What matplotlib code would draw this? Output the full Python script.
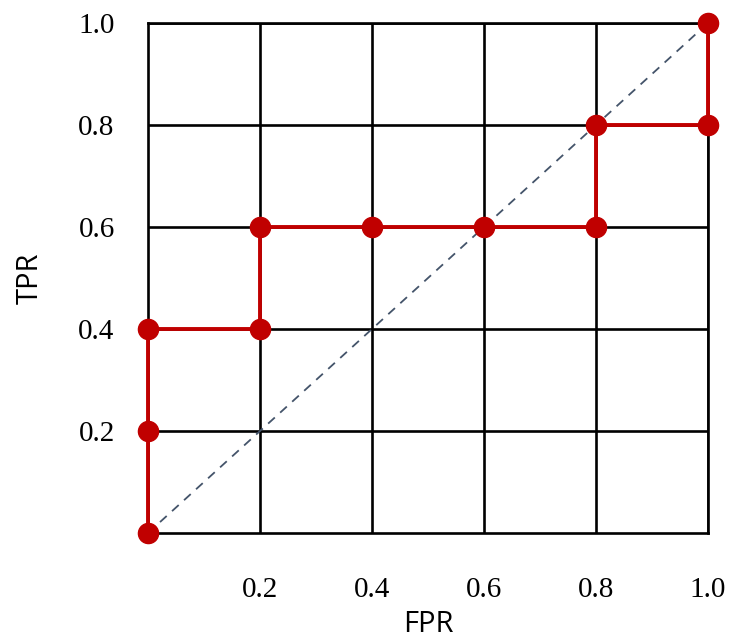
import numpy as np
import matplotlib.pyplot as plt

# ROC curve points
fpr = [0.0, 0.0, 0.0, 0.2, 0.2, 0.4, 0.6, 0.8, 0.8, 1.0, 1.0]
tpr = [0.0, 0.2, 0.4, 0.4, 0.6, 0.6, 0.6, 0.6, 0.8, 0.8, 1.0]
ticks = [0.2, 0.4, 0.6, 0.8, 1.0]
tick_labels = ["0.2", "0.4", "0.6", "0.8", "1.0"]

fig = plt.figure(figsize=(7.29, 6.42), dpi=100)
ax = fig.add_axes([148 / 729, 1 - 533 / 642, 560 / 729, 510 / 642])

ax.set_xlim(0, 1)
ax.set_ylim(0, 1)

# chance diagonal
ax.plot([0, 1], [0, 1], color="#44546A", linestyle=(0, (5, 4)), linewidth=1.3, zorder=2)

ax.plot(fpr, tpr, color="#C00000", linewidth=2.8, marker="o", markersize=14.5,
        clip_on=False, zorder=3)

ax.set_xticks(ticks)
ax.set_yticks(ticks)
ax.set_xticklabels(tick_labels, family="Liberation Serif", fontsize=21)
ax.set_yticklabels(tick_labels, family="Liberation Serif", fontsize=21)
ax.tick_params(length=0, pad=0)
ax.tick_params(axis="x", pad=32)
ax.tick_params(axis="y", pad=24)

ax.grid(True, color="black", linewidth=1.9, zorder=1)
ax.set_axisbelow(True)
for s in ax.spines.values():
    s.set_linewidth(1.9)
    s.set_color("black")

ax.set_xlabel("FPR", fontsize=21, family="Open Sans", labelpad=5)
ax.set_ylabel("TPR", fontsize=21, family="Open Sans", labelpad=24)

fig.savefig("out.png", dpi=100)
